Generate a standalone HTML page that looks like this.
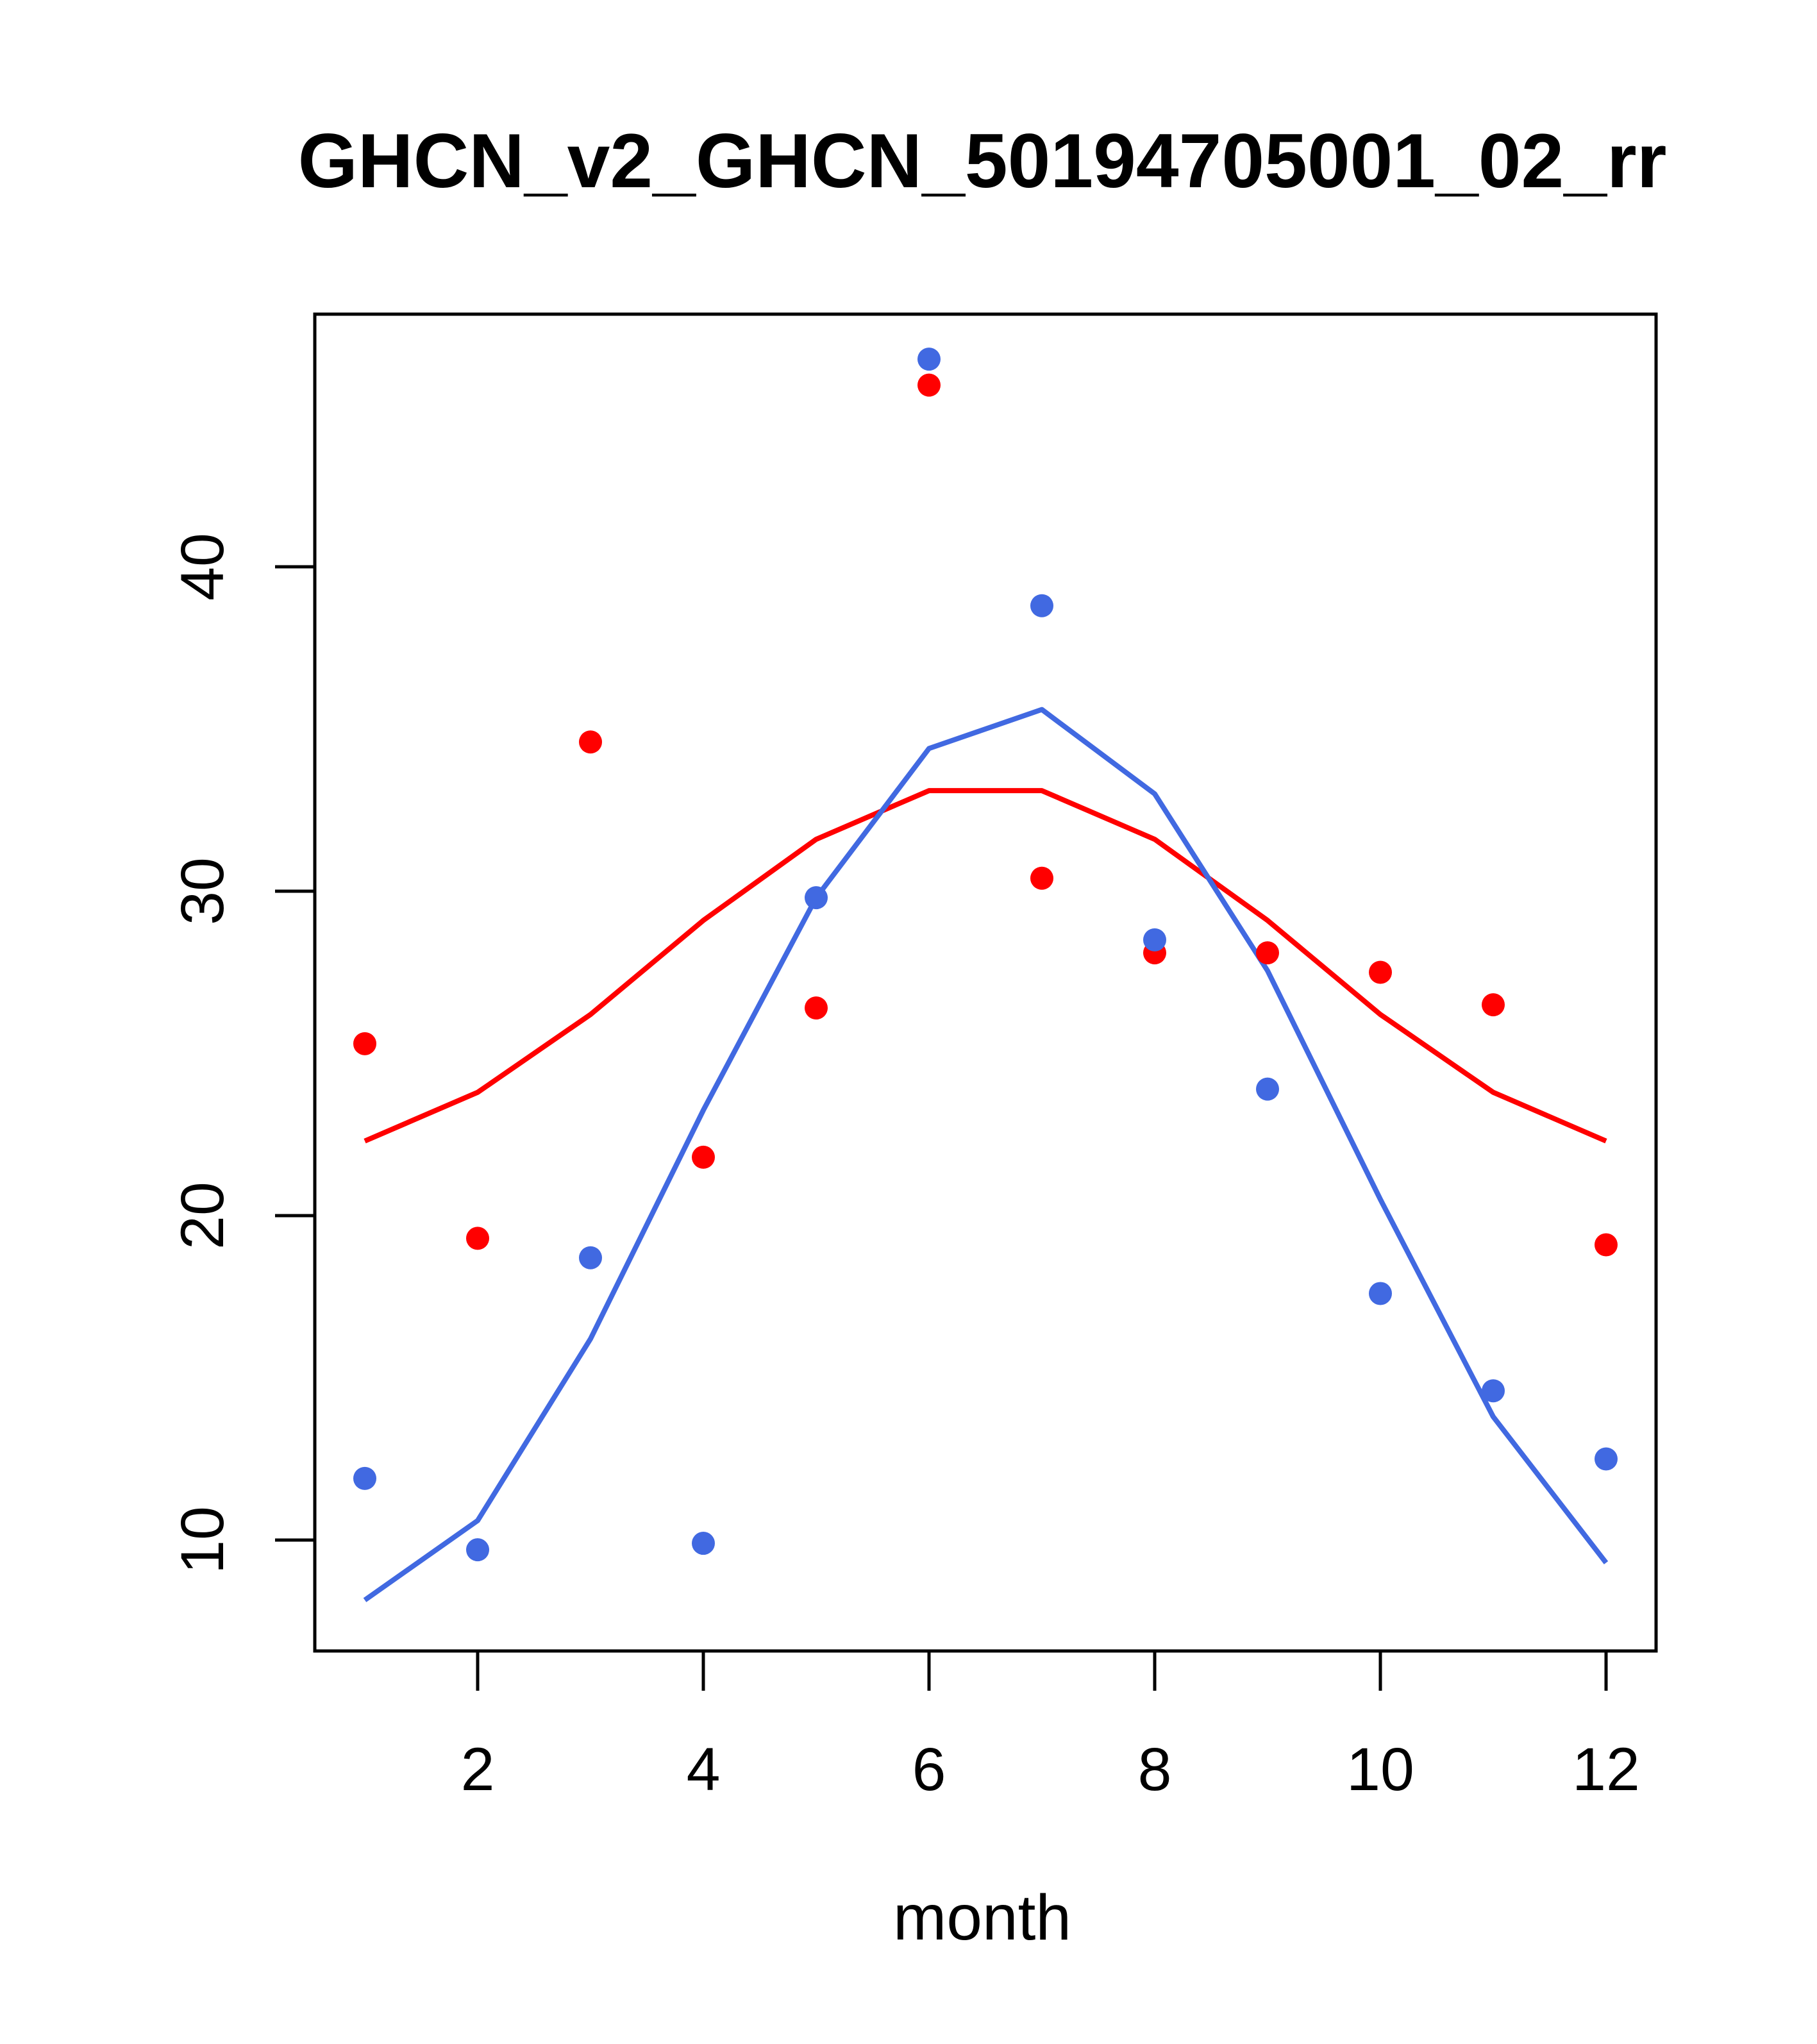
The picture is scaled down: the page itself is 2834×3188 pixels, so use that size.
<!DOCTYPE html>
<html><head><meta charset="utf-8"><style>
html,body{margin:0;padding:0;background:#fff}
svg{display:block}
text{font-family:"Liberation Sans",sans-serif}
</style></head><body>
<svg id="chart" width="2834" height="3188" viewBox="0 0 2834 3188" xmlns="http://www.w3.org/2000/svg">
<text x="1532" y="292" text-anchor="middle" font-size="120" font-weight="bold">GHCN_v2_GHCN_50194705001_02_rr</text>
<rect x="491" y="490" width="2092" height="2085" fill="none" stroke="#000" stroke-width="5"/>
<g id="xaxis"></g>
<g id="yaxis"></g>
<text x="1532" y="3025" text-anchor="middle" font-size="100">month</text>
<g id="marks"></g>
</svg>
<script>
const months=[1,2,3,4,5,6,7,8,9,10,11,12];
const redPoints=[25.3,19.3,34.6,21.8,26.4,45.6,30.4,28.1,28.1,27.5,26.5,19.1];
const redLine=[22.3,23.8,26.2,29.1,31.6,33.1,33.1,31.6,29.1,26.2,23.8,22.3];
const bluePoints=[11.9,9.7,18.7,9.9,29.8,46.4,38.8,28.5,23.9,17.6,14.6,12.5];
const blueLine=[8.15,10.6,16.2,23.25,29.8,34.4,35.6,33.0,27.55,20.5,13.8,9.3];
const xTicks=[2,4,6,8,10,12];
const yTicks=[10,20,30,40];
const NS='http://www.w3.org/2000/svg';
function sx(m){return 569+(m-1)*(2505-569)/11;}
function sy(v){return 2402-(v-10)*(2402-884)/30;}
function mk(tag,attrs,parent){const e=document.createElementNS(NS,tag);for(const k in attrs)e.setAttribute(k,attrs[k]);parent.appendChild(e);return e;}
const xa=document.getElementById('xaxis'),ya=document.getElementById('yaxis'),mg=document.getElementById('marks');
mk('line',{x1:sx(2),x2:sx(12),y1:2575,y2:2575,stroke:'#000','stroke-width':5},xa);
xTicks.forEach(t=>{
 const l=mk('line',{x1:sx(t),x2:sx(t),y1:2575,y2:2637,stroke:'#000','stroke-width':5},xa);
 
 
 const tx=mk('text',{x:sx(t),y:2792,'text-anchor':'middle','font-size':95},xa);
 tx.textContent=t;
 
 
});
mk('line',{x1:491,x2:491,y1:sy(10),y2:sy(40),stroke:'#000','stroke-width':5},ya);
yTicks.forEach(t=>{
 const l=mk('line',{x1:429,x2:491,y1:sy(t),y2:sy(t),stroke:'#000','stroke-width':5},ya);
 
 
 const tx=mk('text',{x:0,y:0,'text-anchor':'middle','font-size':95,transform:`translate(348,${sy(t)}) rotate(-90)`},ya);
 tx.textContent=t;
 
 
});
function line(vals,color,name){
 const p=mk('polyline',{points:vals.map((v,i)=>sx(months[i])+','+sy(v)).join(' '),fill:'none',stroke:color,'stroke-width':8,'stroke-linejoin':'round'},mg);
 
 
}
function pts(vals,color,name){
 vals.forEach((v,i)=>{
  const c=mk('circle',{cx:sx(months[i]),cy:sy(v),r:18,fill:color},mg);
  
  
 });
}
line(redLine,'#ff0000','red-line');
line(blueLine,'#4169e1','blue-line');
pts(redPoints,'#ff0000','red-point');
pts(bluePoints,'#4169e1','blue-point');
</script>
</body></html>
